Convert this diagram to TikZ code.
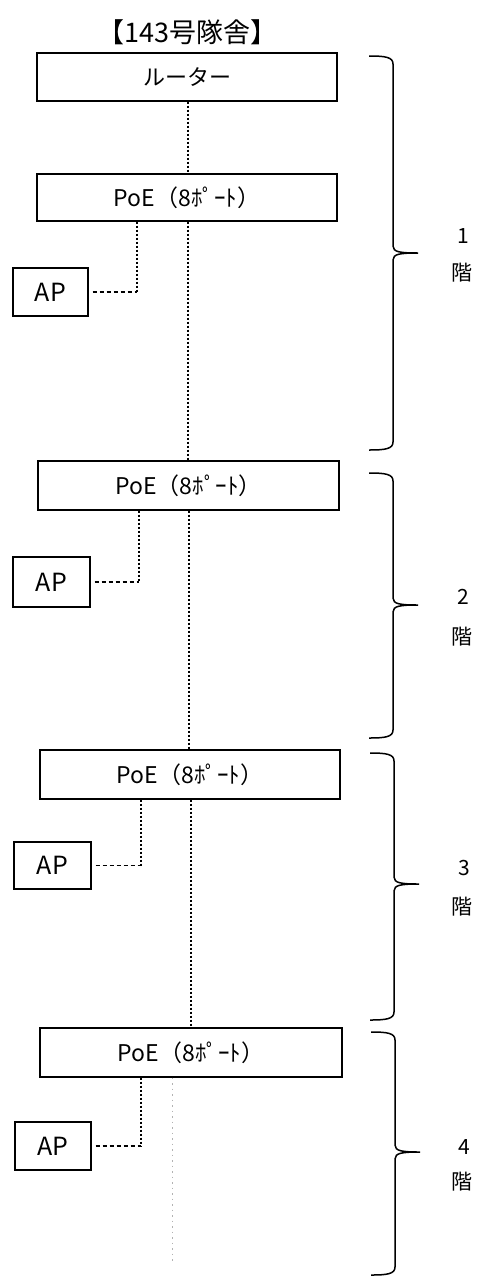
\documentclass[tikz,border=0pt]{standalone}
\usepackage{fontspec}
\setmainfont{Noto Sans CJK JP}
\newfontfamily\jp{Noto Sans CJK JP}
\begin{document}
\begin{tikzpicture}[x=1pt,y=-1pt,
  devbox/.style={draw,line width=1.1pt,inner sep=0pt,font=\jp\fontsize{23}{23}\selectfont},
  apbox/.style={draw,line width=1.1pt,inner sep=0pt,minimum width=76pt,minimum height=48pt,font=\jp\fontsize{25}{25}\selectfont},
  link/.style={line width=1.2pt,dash pattern=on 2.4pt off 1.6pt},
  aplink/.style={line width=1.2pt,dash pattern=on 4pt off 3pt},
  faint/.style={line width=0.5pt,black!30,dash pattern=on 1.5pt off 4pt},
  bracestyle/.style={line width=1.5pt},
  floorlbl/.style={font=\jp\fontsize{21}{21}\selectfont,inner sep=0pt}]
\useasboundingbox (0,0) rectangle (478,1282);
\newcommand\flbrace[4]{%
 \draw[bracestyle] (#4-24,#1) .. controls (#4-8,#1) and (#4,{#1+1}) .. (#4,{#1+8})
   -- (#4,{#2-7}) .. controls (#4,{#2-1}) and (#4+7,#2) .. (#4+25,#2)
   .. controls (#4+7,#2) and (#4,{#2+1}) .. (#4,{#2+7})
   -- (#4,{#3-8}) .. controls (#4,{#3-1}) and (#4-8,#3) .. (#4-24,#3);}
% title
\node[font=\jp\fontsize{27}{27}\selectfont,inner sep=0pt] (title) at (187.5,32) {【143号隊舎】};
% devices
\node[devbox,minimum width=300pt,minimum height=48pt,font=\jp\fontsize{22}{22}\selectfont] (r) at (187,77) {ルーター};
\node[devbox,minimum width=300pt,minimum height=47pt] (p1) at (187,197.5) {PoE（8ﾎﾟｰﾄ）};
\node[devbox,minimum width=301pt,minimum height=49pt] (p2) at (188.5,485.5) {PoE（8ﾎﾟｰﾄ）};
\node[devbox,minimum width=300pt,minimum height=49pt] (p3) at (190,774.5) {PoE（8ﾎﾟｰﾄ）};
\node[devbox,minimum width=302pt,minimum height=49pt] (p4) at (191,1052.5) {PoE（8ﾎﾟｰﾄ）};
\node[apbox,minimum width=75pt] (a1) at (50.5,292) {AP};
\node[apbox,minimum width=77pt,minimum height=50pt] (a2) at (51.5,582) {AP};
\node[apbox,minimum width=77pt,minimum height=47pt] (a3) at (52.5,865.5) {AP};
\node[apbox,minimum width=76pt,minimum height=48pt] (a4) at (53,1146) {AP};
% branch x positions
\coordinate (b1) at (137,0);
\coordinate (b2) at (139,0);
\coordinate (b3) at (141,0);
\coordinate (b4) at (141,0);
\coordinate (m1) at (188,0);
\coordinate (m2) at (189,0);
\coordinate (m3) at (191,0);
\coordinate (f4) at (172,1262);
% trunk
\draw[link] (r.south -| m1) -- (p1.north -| m1);
\draw[link] (p1.south -| m1) -- (p2.north -| m1);
\draw[link] (p2.south -| m2) -- (p3.north -| m2);
\draw[link] (p3.south -| m3) -- (p4.north -| m3);
\draw[faint] (p4.south -| f4) -- (f4);
% AP branches
\draw[link] (p1.south -| b1) -- (a1.east -| b1);
\draw[aplink,shorten <=4pt] (a1.east) -- (a1.east -| b1);
\draw[link] (p2.south -| b2) -- (a2.east -| b2);
\draw[aplink,shorten <=4pt] (a2.east) -- (a2.east -| b2);
\draw[link] (p3.south -| b3) -- (a3.east -| b3);
\draw[aplink,shorten <=4pt] (a3.east) -- (a3.east -| b3);
\draw[link] (p4.south -| b4) -- (a4.east -| b4);
\draw[aplink,shorten <=4pt] (a4.east) -- (a4.east -| b4);
% floor braces
\flbrace{56}{253}{450}{393}
\flbrace{473}{605}{738}{393}
\flbrace{753}{884}{1020}{394}
\flbrace{1032}{1152}{1275}{395}
% floor labels
\node[floorlbl] (n1) at (463,236) {1};
\node[floorlbl] (k1) at (462,273) {階};
\node[floorlbl] (n2) at (463,597) {2};
\node[floorlbl] (k2) at (462,637) {階};
\node[floorlbl] (n3) at (464,868) {3};
\node[floorlbl] (k3) at (462,907) {階};
\node[floorlbl] (n4) at (464,1147) {4};
\node[floorlbl] (k4) at (462,1182) {階};
\end{tikzpicture}
\end{document}
